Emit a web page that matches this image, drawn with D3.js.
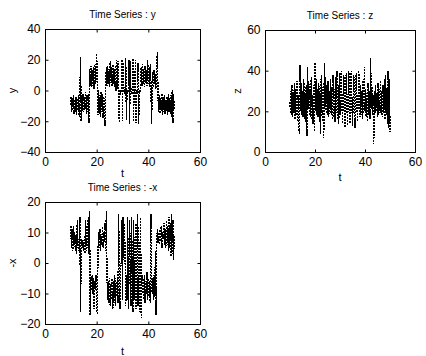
<!DOCTYPE html>
<html>
<head>
<meta charset="utf-8">
<script src="https://cdn.jsdelivr.net/npm/d3@7"></script>
<style>
  body { margin: 0; background: #fff; }
  svg { display: block; font-family: "Liberation Sans", Arial, sans-serif; }
</style>
</head>
<body>
<svg width="426" height="356"></svg>
<script>
// sample times (shared by the three series)
const tGrid = [
  10, 10.25, 10.5, 10.75, 11, 11.25, 11.5, 11.75,
  12, 12.25, 12.5, 12.75, 13, 13.25, 13.5, 13.75,
  14, 14.25, 14.5, 14.75, 15, 15.25, 15.5, 15.75,
  16, 16.25, 16.5, 16.75, 17, 17.25, 17.5, 17.75,
  18, 18.25, 18.5, 18.75, 19, 19.25, 19.5, 19.75,
  20, 20.25, 20.5, 20.75, 21, 21.25, 21.5, 21.75,
  22, 22.25, 22.5, 22.75, 23, 23.25, 23.5, 23.75,
  24, 24.25, 24.5, 24.75, 25, 25.25, 25.5, 25.75,
  26, 26.25, 26.5, 26.75, 27, 27.25, 27.5, 27.75,
  28, 28.25, 28.5, 28.75, 29, 29.25, 29.5, 29.75,
  30, 30.25, 30.5, 30.75, 31, 31.25, 31.5, 31.75,
  32, 32.25, 32.5, 32.75, 33, 33.25, 33.5, 33.75,
  34, 34.25, 34.5, 34.75, 35, 35.25, 35.5, 35.75,
  36, 36.25, 36.5, 36.75, 37, 37.25, 37.5, 37.75,
  38, 38.25, 38.5, 38.75, 39, 39.25, 39.5, 39.75,
  40, 40.25, 40.5, 40.75, 41, 41.25, 41.5, 41.75,
  42, 42.25, 42.5, 42.75, 43, 43.25, 43.5, 43.75,
  44, 44.25, 44.5, 44.75, 45, 45.25, 45.5, 45.75,
  46, 46.25, 46.5, 46.75, 47, 47.25, 47.5, 47.75,
  48, 48.25, 48.5, 48.75, 49, 49.25, 49.5, 49.75,
  50
];

// y(t)
const ySeries = [
  -4, -14, -5, -13, -3, -15, -6, -14,
  -4, -16, -5, -13, -3, -17, -6, 22,
  -20, -3, -13, -2, -14, -4, -12, -1,
  -15, -3, -14, -2, -21, 14, 3, 16,
  2, 13, 3, 15, 1, 17, 4, 14,
  24, 2, -16, 0, -15, -3, -17, -1,
  -14, -2, -18, -4, -15, -23, 1, 15,
  3, 16, 4, 14, 2, 19, 5, 15,
  3, 17, 4, 14, 2, 16, 0, 20,
  1, 19, -2, -21, 0, -1, 0, 20,
  -20, 18, -1, 0, -2, 21, -19, 0,
  -1, 0, 20, -22, 19, -1, 0, -2,
  21, -20, 0, -1, 20, -21, 0, -2,
  18, -22, 0, -1, 2, 15, 3, 17,
  4, 14, 2, 16, 5, 13, 3, 20,
  4, 15, 2, 17, 5, -22, 3, 12,
  2, 13, 4, 11, 1, 14, 25, -4,
  -14, -3, -15, -5, -13, -2, -16, -4,
  -14, -3, -15, -6, -13, -4, -16, -2,
  -14, -5, -15, -3, -17, 0, -21, -2,
  -12
];

// z(t)
const zSeries = [
  22, 30, 18, 33, 17, 29, 19, 34,
  16, 31, 18, 35, 15, 28, 12, 9,
  43, 20, 34, 18, 30, 17, 36, 16,
  29, 15, 33, 8, 42, 21, 35, 18,
  31, 17, 37, 16, 28, 14, 33, 10,
  44, 20, 36, 18, 31, 17, 34, 15,
  29, 9, 38, 19, 32, 16, 7, 44,
  22, 37, 19, 33, 18, 35, 17, 30,
  21, 36, 18, 32, 16, 38, 17, 31,
  15, 37, 19, 40, 16, 33, 14, 39,
  18, 29, 40, 27, 14, 26, 38, 25,
  12, 25, 39, 26, 13, 27, 40, 24,
  14, 28, 40, 26, 13, 25, 38, 27,
  12, 26, 39, 24, 15, 27, 40, 22,
  17, 33, 18, 30, 16, 35, 19, 42,
  20, 31, 17, 29, 15, 34, 18, 30,
  16, 46, 21, 32, 18, 28, 4, 30,
  19, 33, 20, 29, 17, 34, 18, 31,
  20, 35, 18, 30, 17, 33, 19, 36,
  16, 38, 18, 31, 14, 40, 12, 36,
  10
];

// -x(t)
const negXSeries = [
  12, 5, 11, 4, 12, 6, 10, 4,
  9, 3, 14, 5, 8, 4, 15, -16,
  4, 8, 5, 7, 4, 9, 3, 14,
  4, 8, 5, 15, 3, 17, -17, -5,
  -9, -4, -10, -5, -15, -6, -9, -4,
  -12, -17, 3, 10, 5, 11, 4, 9,
  6, 12, 5, 10, 7, 13, 4, 17,
  -4, -12, -6, -13, -5, -14, -7, -12,
  -5, -15, -6, -13, -4, -14, -7, -11,
  -5, -13, 16, -3, -15, 0, -1, 14,
  -12, 15, 2, 13, 3, -14, -4, -12,
  15, -15, -5, 14, 1, -14, 15, -3,
  -16, 14, -12, -1, 13, -15, 3, 16,
  -14, 12, -16, 2, 15, -18, -4, -10,
  -5, -12, -4, -13, -6, -10, -3, -12,
  -5, -11, -6, -13, 16, -4, -10, -5,
  -12, -4, -11, 4, -17, 6, 11, 7,
  10, 6, 11, 7, 12, 5, 10, 8,
  13, 6, 11, 5, 14, 7, 12, 4,
  15, 5, 13, 2, 16, 3, 14, 1,
  9
];

const xDomain = [0, 60];
const xTicks = [0, 20, 40, 60];
const yTicksY = [-40, -20, 0, 20, 40];
const yTicksZ = [0, 20, 40, 60];
const yTicksNegX = [-20, -10, 0, 10, 20];

const panels = [
  { title: "Time Series : y", ylabel: "y", values: ySeries, yDomain: [-40, 40], yTicks: yTicksY,
    left: 45, top: 29, right: 200, bottom: 152, ylabelX: 16, xlabelY: 177 },
  { title: "Time Series : z", ylabel: "z", values: zSeries, yDomain: [0, 60], yTicks: yTicksZ,
    left: 265, top: 30, right: 415, bottom: 152, ylabelX: 241, xlabelY: 181 },
  { title: "Time Series : -x", ylabel: "-x", values: negXSeries, yDomain: [-20, 20], yTicks: yTicksNegX,
    left: 45, top: 202, right: 200, bottom: 324, ylabelX: 16, xlabelY: 355 }
];

const svg = d3.select("svg");

panels.forEach(p => {
  const x = d3.scaleLinear().domain(xDomain).range([p.left, p.right]);
  const y = d3.scaleLinear().domain(p.yDomain).range([p.bottom, p.top]);
  const g = svg.append("g");

  // the series, dotted like the original (aliased, as in the scan)
  const line = d3.line()
    .x((d, i) => x(tGrid[i]))
    .y(d => y(d));
  g.append("path")
    .datum(p.values)
    .attr("d", line)
    .attr("fill", "none")
    .attr("stroke", "#000")
    .attr("stroke-width", 1.4)
    .attr("stroke-dasharray", "2,1")
    .attr("shape-rendering", "crispEdges");

  // box
  g.append("rect")
    .attr("x", p.left + 0.5).attr("y", p.top + 0.5)
    .attr("width", p.right - p.left).attr("height", p.bottom - p.top)
    .attr("fill", "none").attr("stroke", "#000");

  // axes, ticks pointing inwards on all four sides
  const axes = [
    [d3.axisBottom(x).tickValues(xTicks), `translate(0,${p.bottom + 0.5})`, true],
    [d3.axisTop(x).tickValues(xTicks), `translate(0,${p.top + 0.5})`, false],
    [d3.axisLeft(y).tickValues(p.yTicks), `translate(${p.left + 0.5},0)`, true],
    [d3.axisRight(y).tickValues(p.yTicks), `translate(${p.right + 0.5},0)`, false]
  ];
  axes.forEach(([ax, tr, labels]) => {
    const a = g.append("g")
      .attr("transform", tr)
      .call(ax.tickSize(-3).tickPadding(5).tickFormat(labels ? d3.format("d") : ""));
    a.select(".domain").remove();
    a.selectAll("text")
      .attr("font-family", "Liberation Sans, Arial, sans-serif")
      .attr("font-size", 12)
      .attr("fill", "#000");
    a.selectAll("line").attr("stroke", "#000");
  });

  const cx = (p.left + p.right) / 2;
  g.append("text")
    .attr("x", cx).attr("y", p.top - 11)
    .attr("text-anchor", "middle")
    .attr("font-size", 10)
    .text(p.title);

  g.append("text")
    .attr("x", cx).attr("y", p.xlabelY)
    .attr("text-anchor", "middle")
    .attr("font-size", 11)
    .text("t");

  g.append("text")
    .attr("transform", `translate(${p.ylabelX},${(p.top + p.bottom) / 2}) rotate(-90)`)
    .attr("text-anchor", "middle")
    .attr("font-size", 11)
    .text(p.ylabel);
});
</script>
</body>
</html>
